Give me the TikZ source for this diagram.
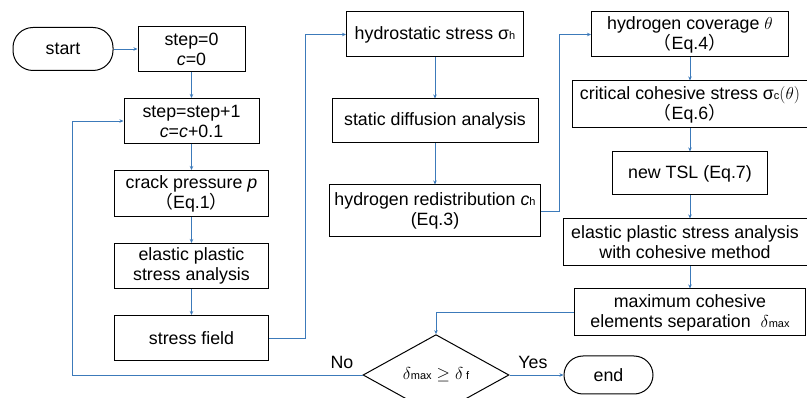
\documentclass[tikz,border=0pt]{standalone}
\usepackage{fontspec}
\setmainfont{Liberation Sans}
\newfontfamily\cjk{Noto Sans CJK SC}
\usepackage{tikz}
\usetikzlibrary{arrows.meta, positioning, shapes.geometric}
\definecolor{flowblue}{RGB}{60,122,186}
\newcommand{\fwl}{{\cjk （}}
\newcommand{\fwr}{{\cjk ）}}
\newcommand{\smallsub}[1]{{\fontsize{11}{11}\selectfont #1}}

\begin{document}
\begin{tikzpicture}[
    x=1pt, y=-1pt,
    every node/.style={align=center, font=\fontsize{17.8}{20}\selectfont},
    box/.style={draw, line width=1pt, inner sep=0pt, minimum height=45pt},
    term/.style={draw, line width=1pt, rounded corners=20pt, inner sep=0pt},
    decide/.style={draw, diamond, line width=1pt, inner sep=0pt, minimum width=146pt, minimum height=62pt},
    arrow/.style={-{Stealth[length=4pt,width=3.5pt]}, line width=0.9pt, flowblue}
]
    \useasboundingbox (0,0) rectangle (807,398);

    % Nodes
    \node[term, minimum width=100pt, minimum height=43pt] (start) at (63,49) {start};
    \node[box, minimum width=107pt, right=24pt of start] (init) {step=0 \\ \textit{c}=0};
    \node[box, minimum width=135pt, below=26pt of init] (incr) {step=step+1 \\ \textit{c}=\textit{c}+0.1};
    \node[box, minimum width=154pt, minimum height=46pt, below=26pt of incr] (press) {crack pressure \textit{p} \\ \fwl Eq.1\fwr};
    \node[box, minimum width=154pt, below=26pt of press] (elastic) {elastic plastic \\ stress analysis};
    \node[box, minimum width=154pt, below=26pt of elastic] (field) {stress field};

    \node[box, minimum width=177pt] (hydro) at (435,34.5) {hydrostatic stress σ\smallsub{h}};
    \node[box, minimum width=206pt, minimum height=44pt, below=41pt of hydro] (diffuse) {static diffusion analysis};
    \node[box, minimum width=211pt, minimum height=52pt, below=41pt of diffuse] (redist) {hydrogen redistribution \textit{c}\smallsub{h} \\ (Eq.3)};

    \node[box, minimum width=197pt] (cover) at (690,34.5) {hydrogen coverage $\theta$ \\ \fwl Eq.4\fwr};
    \node[box, minimum width=235pt, minimum height=47pt, below=23pt of cover] (crit) {critical cohesive stress σ\smallsub{c}$(\theta)$ \\ \fwl Eq.6\fwr};
    \node[box, minimum width=155pt, minimum height=43pt, below=23pt of crit] (tsl) {new TSL (Eq.7)};
    \node[box, minimum width=244pt, minimum height=47pt, below=23pt of tsl, xshift=-5pt] (cohes) {elastic plastic stress analysis \\ with cohesive method};
    \node[box, minimum width=231pt, minimum height=47pt, below=22pt of cohes, xshift=5pt] (sep) {maximum cohesive \\ elements separation \ $\delta$\smallsub{max}};

    \node[decide] (check) at (436,375) {$\delta$\smallsub{max} $\geq$ $\delta$\,\smallsub{f}};
    \node[term, minimum width=89pt, minimum height=38pt, rounded corners=19pt, right=54pt of check] (stop) {end};

    \node (no) at (342,362) {No};
    \node (yes) at (533,362) {Yes};
    \coordinate (back) at (72,375);

    % Arrows
    \draw[arrow] (start) -- (init);
    \draw[arrow] (init) -- (incr);
    \draw[arrow] (incr) -- (press);
    \draw[arrow] (press) -- (elastic);
    \draw[arrow] (elastic) -- (field);
    \draw[arrow] (field.east) -- ++(36,0) |- (hydro.west);
    \draw[arrow] (hydro) -- (diffuse);
    \draw[arrow] (diffuse) -- (redist);
    \draw[arrow] (redist.east) -- ++(18,0) |- (cover.west);
    \draw[arrow] (cover) -- (crit);
    \draw[arrow] (crit) -- (tsl);
    \draw[arrow] (tsl.south) -- (tsl.south |- cohes.north);
    \draw[arrow] (cohes.south -| sep.north) -- (sep.north);
    \draw[arrow] (sep.west) -| (check.north);
    \draw[arrow] (check.east) -- (stop.west);
    \draw[arrow] (check.west) -- (back) |- (incr.west);
\end{tikzpicture}
\end{document}
